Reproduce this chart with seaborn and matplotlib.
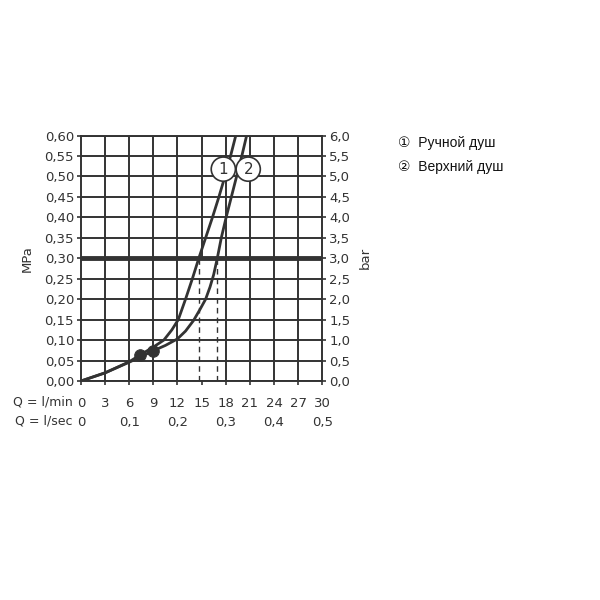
import matplotlib
matplotlib.use("Agg")
import matplotlib.pyplot as plt
import matplotlib.ticker as mticker
import numpy as np
import seaborn as sns

# ── Data ──────────────────────────────────────────────────────────────────────
# curve 1: Ручной душ (hand shower)
q1 = [0, 3, 6, 7.3, 9, 10.3, 11.3, 12.1, 13.0, 13.85, 14.65, 15.5, 16.35, 17.15, 17.9, 18.6, 19.25]
p1 = [0, 0.020, 0.047, 0.063, 0.083, 0.10, 0.125, 0.15, 0.20, 0.25, 0.30, 0.35, 0.40, 0.45, 0.50, 0.55, 0.60]
# curve 2: Верхний душ (overhead shower)
q2 = [0, 3, 6, 9, 10.5, 12.0, 13.0, 14.0, 14.8, 15.5, 16.05, 16.5, 16.95, 17.45, 18.05, 18.7, 19.35, 20.0, 20.6]
p2 = [0, 0.020, 0.046, 0.074, 0.087, 0.103, 0.122, 0.148, 0.175, 0.20, 0.23, 0.26, 0.30, 0.35, 0.40, 0.45, 0.50, 0.55, 0.60]

dot_q = [7.3, 9.0]
dot_p = [0.064, 0.074]

flow_at_3bar = [14.65, 16.95]
nominal_pressure = 0.30

mpa_ticks = [0.00, 0.05, 0.10, 0.15, 0.20, 0.25, 0.30, 0.35, 0.40, 0.45, 0.50, 0.55, 0.60]
bar_ticks = [0.0, 0.5, 1.0, 1.5, 2.0, 2.5, 3.0, 3.5, 4.0, 4.5, 5.0, 5.5, 6.0]
lmin_ticks = [0, 3, 6, 9, 12, 15, 18, 21, 24, 27, 30]
lsec_ticks = [0, 0.1, 0.2, 0.3, 0.4, 0.5]

legend_items = ["①  Ручной душ", "②  Верхний душ"]
curve_tags = ["1", "2"]
tag_pos = [(17.7, 0.518), (20.8, 0.518)]

# ── Style ─────────────────────────────────────────────────────────────────────
sns.set_theme(style="white")
plt.rcParams["font.family"] = ["DejaVu Sans"]
INK = "#333333"
FS = 9.5


def comma(fmt):
    return mticker.FuncFormatter(lambda v, _: fmt.format(v).replace(".", ","))


fig = plt.figure(figsize=(6, 6), dpi=100)
ax = fig.add_axes([0.135, 0.365, 0.402, 0.409])

ax.set_xlim(0, 30)
ax.set_ylim(0, 0.6)
ax.set_xticks(lmin_ticks)
ax.set_yticks(mpa_ticks)
ax.yaxis.set_major_formatter(comma("{:.2f}"))

# grid: horizontal lines everywhere, vertical lines drawn by hand so the
# 15 l/min line stops at the 0,3 MPa line (the dashed drop line replaces it)
ax.grid(True, axis="y", color=INK, linewidth=1.4)
for q in lmin_ticks[1:-1]:
    y0 = nominal_pressure if q == 15 else 0
    ax.plot([q, q], [y0, 0.6], color=INK, linewidth=1.4, zorder=1)

for s in ax.spines.values():
    s.set_color(INK)
    s.set_linewidth(1.4)
ax.tick_params(axis="y", colors=INK, labelcolor=INK, labelsize=FS,
               direction="out", length=3, width=1.2, pad=2, left=True)
ax.tick_params(axis="x", colors=INK, labelcolor=INK, labelsize=FS,
               direction="out", length=3, width=1.2, pad=8.5, bottom=True)
ax.set_ylabel("MPa", fontsize=FS, color=INK, labelpad=8)

# thick nominal pressure line and dashed drop lines
ax.axhline(nominal_pressure, color=INK, linewidth=3.5, zorder=3)
for q in flow_at_3bar:
    ax.plot([q, q], [0, nominal_pressure], color=INK, linestyle=(0, (4, 3)), linewidth=1.0, zorder=3)

sns.lineplot(x=q1, y=p1, ax=ax, color=INK, linewidth=2.0, sort=False, zorder=4)
sns.lineplot(x=q2, y=p2, ax=ax, color=INK, linewidth=2.0, sort=False, zorder=4)
sns.scatterplot(x=dot_q, y=dot_p, ax=ax, color=INK, s=70, edgecolor=INK, zorder=5)

for tag, (tx, ty) in zip(curve_tags, tag_pos):
    ax.text(tx, ty, tag, fontsize=11, color=INK, ha="center", va="center", zorder=6,
            bbox=dict(boxstyle="circle,pad=0.3", fc="white", ec=INK, lw=1.2))

# right axis in bar
ax2 = ax.twinx()
ax2.set_ylim(0, 6)
ax2.set_yticks(bar_ticks)
ax2.yaxis.set_major_formatter(comma("{:.1f}"))
ax2.tick_params(axis="y", colors=INK, labelcolor=INK, labelsize=FS,
                direction="out", length=3, width=1.2, pad=2)
for s in ax2.spines.values():
    s.set_visible(False)
ax2.set_ylabel("bar", fontsize=FS, color=INK, rotation=90, labelpad=6)

# second flow row in l/sec
sec = ax.secondary_xaxis(-0.142, functions=(lambda x: x / 60, lambda x: x * 60))
sec.set_xticks(lsec_ticks)
sec.xaxis.set_major_formatter(mticker.FuncFormatter(
    lambda v, _: "0" if v == 0 else f"{v:.1f}".replace(".", ",")))
sec.spines["bottom"].set_visible(False)
sec.tick_params(axis="x", length=0, labelsize=FS, labelcolor=INK, pad=0)

fig.text(0.121, 1 - 402 / 600, "Q = l/min", fontsize=9, color=INK, ha="right", va="center")
fig.text(0.121, 1 - 421 / 600, "Q = l/sec", fontsize=9, color=INK, ha="right", va="center")

for i, item in enumerate(legend_items):
    fig.text(0.663, 1 - (143 + 24 * i) / 600, item, fontsize=10, color="#111111",
             ha="left", va="center", family=["Liberation Sans", "DejaVu Sans"])

fig.savefig("out.png", dpi=100, facecolor="white")
